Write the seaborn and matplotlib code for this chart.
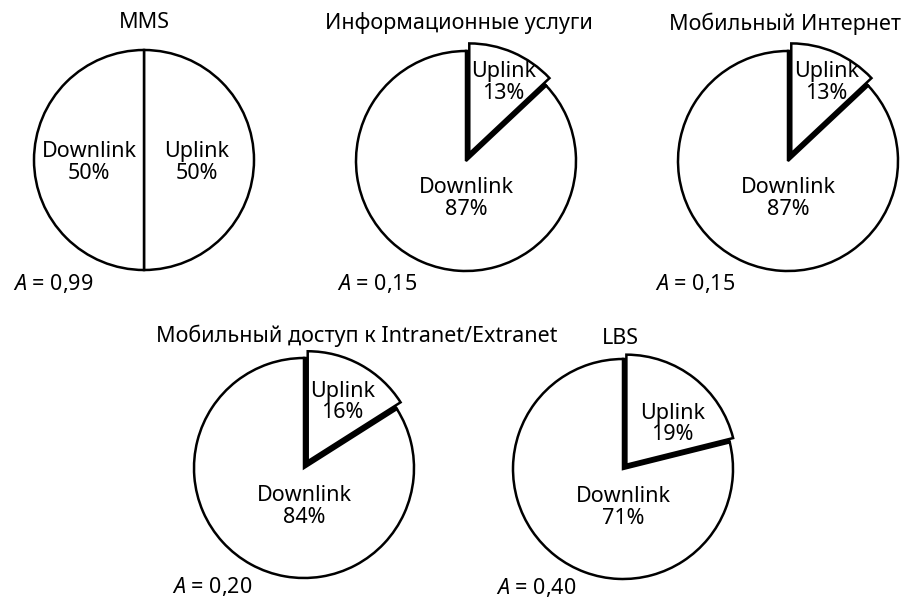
import matplotlib
matplotlib.use("Agg")
import matplotlib.pyplot as plt
import seaborn as sns

# ---- data ----
services = ["MMS", "Информационные услуги", "Мобильный Интернет",
            "Мобильный доступ к Intranet/Extranet", "LBS"]
uplink = [50, 13, 13, 16, 19]
downlink = [50, 87, 87, 84, 71]
a_values = ["0,99", "0,15", "0,15", "0,20", "0,40"]

# ---- layout (pixels / data units) ----
W, H = 908, 605
R = 110
centers = [(144, 160), (466, 161), (788, 161), (304, 468), (623, 469)]
explode = [0.0, 0.075, 0.075, 0.07, 0.05]
title_pos = [(0.0, 1.25), (-0.06, 1.25), (-0.03, 1.25), (0.48, 1.20), (-0.02, 1.19)]
up_pos = [(0.48, -0.02), (0.34, 0.71), (0.35, 0.71), (0.35, 0.60), (0.45, 0.41)]
down_pos = [(-0.50, -0.02), (0.0, -0.34), (0.0, -0.34), (0.0, -0.35), (0.0, -0.35)]
a_pos = [(-1.19, -1.12), (-1.17, -1.11), (-1.21, -1.11), (-1.20, -1.08), (-1.15, -1.08)]

sns.set_theme(style="white")
plt.rcParams["font.family"] = ["Noto Sans", "DejaVu Sans"]
plt.rcParams["mathtext.fontset"] = "custom"
plt.rcParams["mathtext.it"] = "Noto Sans:italic"
plt.rcParams["mathtext.rm"] = "Noto Sans"
plt.rcParams["text.color"] = "black"

fig = plt.figure(figsize=(W / 100, H / 100), dpi=100)
fig.patch.set_facecolor("white")

FS = 15.5
wp = dict(edgecolor="black", linewidth=1.8)
for i, name in enumerate(services):
    cx, cy = centers[i]
    half = 1.3 * R
    ax = fig.add_axes([(cx - half) / W, (H - cy - half) / H, 2 * half / W, 2 * half / H])
    vals = [uplink[i], downlink[i]]
    if explode[i] == 0:
        ax.pie(vals, colors=["white", "white"], startangle=90, counterclock=False,
               wedgeprops=wp)
    else:
        ax.pie(vals, colors=["black", "white"], startangle=90, counterclock=False,
               wedgeprops=wp)
        w2, _ = ax.pie(vals, colors=["white", "white"], explode=[explode[i], 0],
                       startangle=90, counterclock=False, wedgeprops=wp)
        w2[1].set_visible(False)
    ax.set_xlim(-1.3, 1.3)
    ax.set_ylim(-1.3, 1.3)
    ax.axis("off")
    ax.text(*title_pos[i], name, ha="center", va="center", fontsize=FS,
            color="black", clip_on=False)
    ax.text(*up_pos[i], f"Uplink\n{uplink[i]}%", ha="center", va="center",
            fontsize=FS, color="black", linespacing=1.05)
    ax.text(*down_pos[i], f"Downlink\n{downlink[i]}%", ha="center", va="center",
            fontsize=FS, color="black", linespacing=1.05)
    ax.text(*a_pos[i], f"$A$ = {a_values[i]}", ha="left", va="center",
            fontsize=FS, color="black", clip_on=False)

fig.savefig("out.png", dpi=100, facecolor="white")
